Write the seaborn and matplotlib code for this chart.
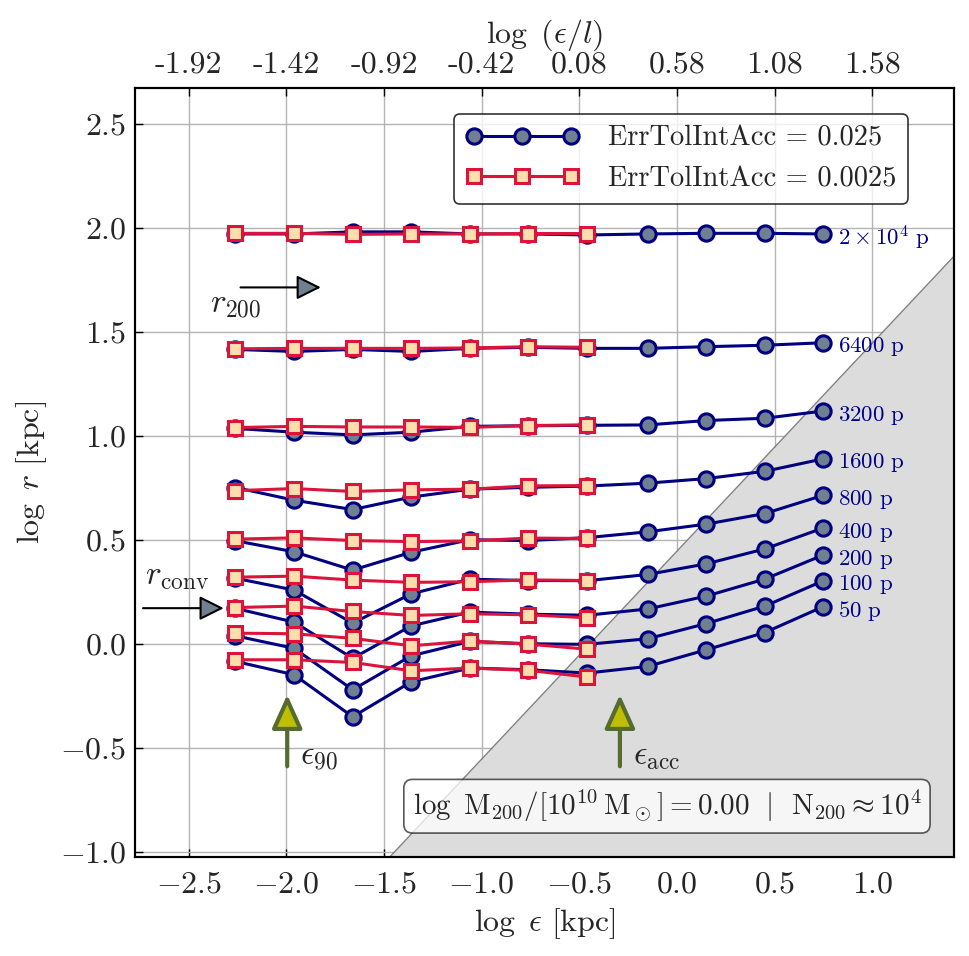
import numpy as np
import seaborn as sns
import matplotlib.pyplot as plt

sns.set_theme(style="ticks")
plt.rcParams["font.family"] = ["cmr10", "DejaVu Serif"]
plt.rcParams["mathtext.fontset"] = "cm"
plt.rcParams["axes.formatter.use_mathtext"] = True

# softening lengths (log kpc)
log_eps = [-2.26, -1.96, -1.66, -1.36, -1.06, -0.76, -0.46, -0.15, 0.15, 0.45, 0.75]
n_tight = 7

# ErrTolIntAcc = 0.025
b50 = [-0.085, -0.149, -0.351, -0.183, -0.117, -0.125, -0.141, -0.109, -0.029, 0.054, 0.179]
b100 = [0.038, -0.022, -0.221, -0.058, 0.011, 0.000, -0.003, 0.024, 0.097, 0.181, 0.303]
b200 = [0.170, 0.104, -0.070, 0.086, 0.152, 0.142, 0.137, 0.167, 0.229, 0.311, 0.427]
b400 = [0.315, 0.258, 0.099, 0.240, 0.310, 0.304, 0.303, 0.333, 0.384, 0.456, 0.557]
b800 = [0.495, 0.442, 0.354, 0.440, 0.500, 0.496, 0.510, 0.538, 0.575, 0.626, 0.714]
b1600 = [0.751, 0.690, 0.645, 0.705, 0.743, 0.752, 0.758, 0.772, 0.794, 0.829, 0.889]
b3200 = [1.035, 1.017, 1.004, 1.017, 1.045, 1.048, 1.050, 1.052, 1.073, 1.084, 1.119]
b6400 = [1.415, 1.405, 1.415, 1.405, 1.420, 1.425, 1.420, 1.420, 1.428, 1.435, 1.447]
b20000 = [1.970, 1.970, 1.980, 1.980, 1.970, 1.970, 1.965, 1.970, 1.973, 1.973, 1.970]

# ErrTolIntAcc = 0.0025
r50 = [-0.077, -0.077, -0.090, -0.130, -0.117, -0.128, -0.160]
r100 = [0.051, 0.048, 0.026, -0.010, 0.013, -0.002, -0.026]
r200 = [0.174, 0.181, 0.155, 0.136, 0.144, 0.139, 0.125]
r400 = [0.320, 0.325, 0.306, 0.295, 0.298, 0.307, 0.304]
r800 = [0.503, 0.509, 0.496, 0.491, 0.494, 0.508, 0.506]
r1600 = [0.736, 0.746, 0.732, 0.740, 0.743, 0.759, 0.760]
r3200 = [1.039, 1.045, 1.042, 1.042, 1.040, 1.049, 1.052]
r6400 = [1.418, 1.420, 1.420, 1.420, 1.422, 1.428, 1.425]
r20000 = [1.973, 1.973, 1.968, 1.970, 1.970, 1.972, 1.972]

curve_labels = [r"$50\ \mathrm{p}$", r"$100\ \mathrm{p}$", r"$200\ \mathrm{p}$",
                r"$400\ \mathrm{p}$", r"$800\ \mathrm{p}$", r"$1600\ \mathrm{p}$",
                r"$3200\ \mathrm{p}$", r"$6400\ \mathrm{p}$", r"$2\times10^4\ \mathrm{p}$"]
loose = [b50, b100, b200, b400, b800, b1600, b3200, b6400, b20000]
tight = [r50, r100, r200, r400, r800, r1600, r3200, r6400, r20000]

top_ticks = [-2.5, -2.0, -1.5, -1.0, -0.5, 0.0, 0.5, 1.0]
top_labels = ["-1.92", "-1.42", "-0.92", "-0.42", "0.08", "0.58", "1.08", "1.58"]

log_r200 = 1.713
log_rconv = 0.171
log_eps90 = -1.995
log_epsacc = -0.292
diag_offset = 0.445

xlim = (-2.775, 1.418)
ylim = (-1.025, 2.67)

fig = plt.figure(figsize=(9.7, 9.56), dpi=100)
ax = fig.add_axes([0.139, 0.1036, 0.8445, 0.804])

# shaded region
xs = np.array(xlim)
ax.fill_between(xs, ylim[0] - 0.1, xs + diag_offset, color="#dcdcdc", lw=0, zorder=0.8)
ax.plot(xs, xs + diag_offset, color="gray", lw=1, zorder=0.9)

for i, vals in enumerate(loose):
    sns.lineplot(x=log_eps, y=vals, ax=ax, color="navy", marker="o", markersize=11,
                 markerfacecolor="slategray", markeredgecolor="navy", markeredgewidth=2.2,
                 linewidth=2.2, estimator=None, sort=False, zorder=3,
                 label="ErrTolIntAcc = 0.025" if i == 0 else None, legend=False)
for i, vals in enumerate(tight):
    sns.lineplot(x=log_eps[:n_tight], y=vals, ax=ax, color="crimson", marker="s", markersize=10,
                 markerfacecolor="navajowhite", markeredgecolor="crimson", markeredgewidth=2.2,
                 linewidth=2.2, estimator=None, sort=False, zorder=4,
                 label="ErrTolIntAcc = 0.0025" if i == 0 else None, legend=False)

for lab, vals in zip(curve_labels, loose):
    ax.text(log_eps[-1] + 0.075, vals[-1] - 0.02, lab, color="darkblue", fontsize=16.5,
            ha="left", va="center", zorder=5)

# arrows
arrow_kw = dict(arrowstyle="-|>,head_length=1.5,head_width=0.75", mutation_scale=10,
                lw=1.5, fc="slategray", ec="black", shrinkA=0, shrinkB=0)
ax.annotate("", xy=(-1.823, log_r200), xytext=(-2.234, log_r200), arrowprops=arrow_kw, zorder=6)
ax.text(-2.39, 1.628, r"$r_{200}$", fontsize=24, ha="left", va="center")
ax.annotate("", xy=(-2.32, log_rconv), xytext=(-2.733, log_rconv), arrowprops=arrow_kw, zorder=6)
ax.text(-2.724, 0.319, r"$r_\mathrm{conv}$", fontsize=24, ha="left", va="center")

for xe, lab in [(log_eps90, r"$\epsilon_{90}$"), (log_epsacc, r"$\epsilon_\mathrm{acc}$")]:
    ax.annotate("", xy=(xe, -0.245), xytext=(xe, -0.589),
                arrowprops=dict(arrowstyle="-|>,head_length=2.1,head_width=0.95", mutation_scale=10,
                                lw=3, fc="#bfbf00", ec="darkolivegreen", shrinkA=0, shrinkB=0), zorder=6)
    ax.text(xe + 0.065, -0.548, lab, fontsize=24, ha="left", va="center")

ax.text(0.6496, 0.066,
        r"$\log\ \mathrm{M}_{200}/[10^{10}\,\mathrm{M}_\odot] = 0.00\ \ |\ \ \mathrm{N}_{200} \approx 10^4$",
        transform=ax.transAxes, fontsize=21, ha="center", va="center", zorder=7,
        bbox=dict(boxstyle="round,pad=0.3", fc="white", ec="#222222", alpha=0.75, lw=1.2))

ax.set_xlim(xlim)
ax.set_ylim(ylim)
ax.set_xticks(top_ticks)
ax.set_yticks([-1.0, -0.5, 0.0, 0.5, 1.0, 1.5, 2.0, 2.5])
ax.grid(True, color="#b4b4b4", lw=1)
ax.tick_params(direction="in", labelsize=23, length=6, width=1, color="black")
ax.tick_params(axis="x", pad=10)
ax.tick_params(axis="y", pad=6)
for s in ax.spines.values():
    s.set_linewidth(1.5)
    s.set_color("black")
ax.set_xlabel(r"$\log\ \epsilon\ [\mathrm{kpc}]$", fontsize=23, labelpad=6)
ax.set_ylabel(r"$\log\ r\ [\mathrm{kpc}]$", fontsize=23, labelpad=8)

leg = ax.legend(loc="upper right", bbox_to_anchor=(0.9435, 0.9666), borderaxespad=0,
                numpoints=3, handlelength=4.0, handletextpad=1.0, fontsize=20.5,
                fancybox=True, edgecolor="black")
leg.get_frame().set_linewidth(1.2)
leg.set_zorder(8)

ax2 = ax.twiny()
ax2.set_xlim(xlim)
ax2.set_xticks(top_ticks)
ax2.set_xticklabels(top_labels)
ax2.tick_params(direction="in", labelsize=23, length=6, width=1, pad=7, color="black")
ax2.set_xlabel(r"$\log\ (\epsilon/l)$", fontsize=23, labelpad=6)
for s in ax2.spines.values():
    s.set_linewidth(1.5)
    s.set_color("black")

fig.savefig("out.png", dpi=100)
